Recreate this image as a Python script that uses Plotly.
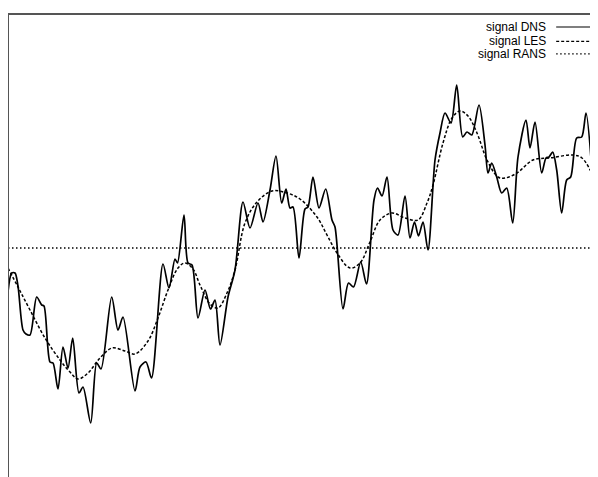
import plotly.graph_objects as go

# time axis and signals
dns_t = [0, 3.7, 7, 10, 15, 18, 22, 28.7, 33.7, 36, 42, 45, 50, 55, 60, 64.7, 71, 75, 82.7, 88.7, 93,
         103.7, 110, 115, 127, 132, 138, 143.5, 155, 161, 167, 169.5, 176, 180, 184, 190, 197, 202.5,
         207, 212, 220, 227, 235, 242, 250, 255, 262, 268, 273.7, 278, 282, 285, 291, 297, 300, 305,
         311, 317.7, 324, 327, 335, 340.5, 345.5, 352.7, 358.5, 366, 369.5, 374, 379, 385, 390, 397,
         402, 406.5, 410.5, 415, 420, 427, 432, 437, 443, 448.7, 454.7, 459, 463.7, 471, 477, 480,
         483.7, 488.7, 493.7, 498.7, 504.7, 510, 518, 522, 527, 533.7, 538, 541, 544.7, 548.7, 553.7,
         558.7, 562.7, 568.7, 573.7, 578, 583.7]
dns_y = [-0.44, -0.25, -0.25, -0.38, -0.82, -0.86, -0.87, -0.49, -0.57, -0.58, -1.14, -1.15, -1.41,
         -0.99, -1.20, -0.90, -1.45, -1.39, -1.75, -1.15, -1.21, -0.49, -0.82, -0.69, -1.43, -1.19,
         -1.14, -1.30, -0.16, -0.40, -0.11, -0.15, 0.33, -0.15, -0.17, -0.70, -0.42, -0.61, -0.52,
         -0.97, -0.49, -0.22, 0.46, 0.20, 0.45, 0.26, 0.58, 0.92, 0.45, 0.59, 0.40, 0.41, -0.10, 0.39,
         0.41, 0.71, 0.40, 0.59, 0.28, 0.21, -0.61, -0.35, -0.39, -0.14, -0.36, 0.48, 0.60, 0.52, 0.71,
         0.18, 0.13, 0.52, 0.10, 0.26, 0.12, 0.26, -0.02, 0.88, 1.15, 1.35, 1.25, 1.63, 1.11, 1.16,
         1.13, 1.43, 1.03, 0.75, 0.85, 0.71, 0.55, 0.60, 0.25, 0.91, 1.28, 1.00, 1.26, 0.75, 0.90,
         0.91, 0.96, 0.78, 0.35, 0.68, 0.71, 1.10, 1.11, 1.35, 0.80]

les_t = [0, 10, 22, 37, 52, 62, 70, 80, 92, 104, 117, 127, 140, 150, 160, 170, 177, 185, 192, 202,
         210, 219, 227, 237, 249, 264, 279, 292, 309, 319, 329, 342, 352, 362, 372, 384, 397, 410,
         419, 425, 435, 444, 452, 460, 469, 479, 490, 497, 509, 525, 542, 565, 574, 583.7]
les_y = [-0.20, -0.39, -0.62, -0.90, -1.12, -1.24, -1.31, -1.25, -1.10, -1.00, -1.03, -1.06, -0.93,
         -0.70, -0.42, -0.20, -0.15, -0.21, -0.37, -0.56, -0.60, -0.45, -0.22, 0.25, 0.46, 0.57, 0.55,
         0.49, 0.31, 0.13, -0.05, -0.20, -0.15, 0.06, 0.28, 0.35, 0.30, 0.28, 0.45, 0.63, 1.05, 1.30,
         1.37, 1.32, 1.15, 0.88, 0.71, 0.70, 0.75, 0.88, 0.90, 0.93, 0.90, 0.75]

rans_t = [0, 590]
rans_y = [0.0, 0.0]

series_names = ["signal DNS", "signal LES", "signal RANS"]
series_dash = ["solid", "3px,2px", "1.5px,2.5px"]

fig = go.Figure()
fig.add_trace(go.Scatter(x=dns_t, y=dns_y, mode="lines", name=series_names[0],
                         line=dict(color="black", width=1.7, shape="spline", smoothing=0.8),
                         cliponaxis=False))
fig.add_trace(go.Scatter(x=les_t, y=les_y, mode="lines", name=series_names[1],
                         line=dict(color="black", width=1.5, dash=series_dash[1], shape="spline",
                                   smoothing=1.0), cliponaxis=False))
fig.add_trace(go.Scatter(x=rans_t, y=rans_y, mode="lines", name=series_names[2],
                         line=dict(color="black", width=1.4, dash=series_dash[2]),
                         cliponaxis=False))

# manual legend: right-aligned text with sample line on the right
row_y = [0.974, 0.943, 0.916]
for name, dash, yy in zip(series_names, series_dash, row_y):
    fig.add_annotation(xref="paper", yref="paper", x=0.915, y=yy, text=name, showarrow=False,
                       xanchor="right", yanchor="middle",
                       font=dict(family="Liberation Sans, Arial, sans-serif", size=12, color="black"))
    fig.add_shape(type="line", xref="paper", yref="paper", x0=0.929, x1=0.990, y0=yy, y1=yy,
                  line=dict(color="black", width=1.2, dash=dash))

fig.update_layout(
    width=590, height=469,
    margin=dict(l=1, r=0, t=7, b=0),
    paper_bgcolor="white", plot_bgcolor="white",
    showlegend=False,
    xaxis=dict(range=[1, 590], side="top", showline=True, linecolor="#555555", linewidth=2,
               showticklabels=False, ticks="", showgrid=False, zeroline=False),
    yaxis=dict(range=[-2.29, 2.33], showline=True, linecolor="#555555", linewidth=2,
               showticklabels=False, ticks="", showgrid=False, zeroline=False),
)

fig.write_html("out.html")
